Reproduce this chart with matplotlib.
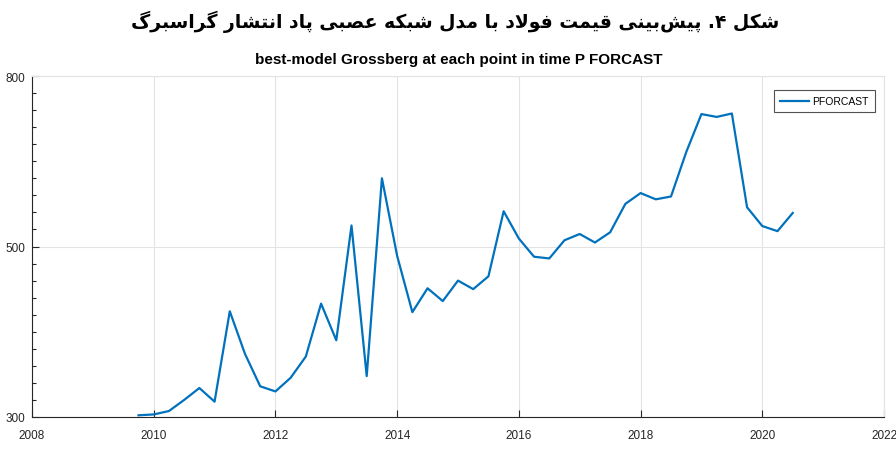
import numpy as np
import matplotlib
matplotlib.use('Agg')
import matplotlib.pyplot as plt
from matplotlib.ticker import FixedLocator

# quarterly time axis and forecast values
years = [2009.75,
         2010.0, 2010.25, 2010.5, 2010.75,
         2011.0, 2011.25, 2011.5, 2011.75,
         2012.0, 2012.25, 2012.5, 2012.75,
         2013.0, 2013.25, 2013.5, 2013.75,
         2014.0, 2014.25, 2014.5, 2014.75,
         2015.0, 2015.25, 2015.5, 2015.75,
         2016.0, 2016.25, 2016.5, 2016.75,
         2017.0, 2017.25, 2017.5, 2017.75,
         2018.0, 2018.25, 2018.5, 2018.75,
         2019.0, 2019.25, 2019.5, 2019.75,
         2020.0, 2020.25, 2020.5]
pforcast = [302,
            303, 307, 320, 334,
            318, 424, 374, 336,
            330, 346, 371, 433,
            390, 537, 348, 620,
            489, 423, 451, 436,
            460, 450, 465, 562,
            514, 488, 486, 511,
            522, 507, 525, 575,
            594, 583, 588, 666,
            733, 728, 734, 569,
            536, 527, 559]

x_ticks = [2008, 2010, 2012, 2014, 2016, 2018, 2020, 2022]
y_ticks = [300, 500, 800]
y_minor = list(range(320, 500, 20)) + list(range(530, 800, 30))

fa_title = 'شکل ۴. پیش\u200cبینی قیمت فولاد با مدل شبکه عصبی پاد انتشار گراسبرگ'
en_title = 'best-model Grossberg at each point in time P FORCAST'

# presentation forms: (isolated, final, initial, medial); 2-tuple = joins right only
FORMS = {
    'ش': (0xFEB5, 0xFEB6, 0xFEB7, 0xFEB8), 'ک': (0xFB8E, 0xFB8F, 0xFB90, 0xFB91),
    'ل': (0xFEDD, 0xFEDE, 0xFEDF, 0xFEE0), 'پ': (0xFB56, 0xFB57, 0xFB58, 0xFB59),
    'ی': (0xFBFC, 0xFBFD, 0xFBFE, 0xFBFF), 'ب': (0xFE8F, 0xFE90, 0xFE91, 0xFE92),
    'ن': (0xFEE5, 0xFEE6, 0xFEE7, 0xFEE8), 'ق': (0xFED5, 0xFED6, 0xFED7, 0xFED8),
    'م': (0xFEE1, 0xFEE2, 0xFEE3, 0xFEE4), 'ت': (0xFE95, 0xFE96, 0xFE97, 0xFE98),
    'ف': (0xFED1, 0xFED2, 0xFED3, 0xFED4), 'ه': (0xFEE9, 0xFEEA, 0xFEEB, 0xFEEC),
    'ع': (0xFEC9, 0xFECA, 0xFECB, 0xFECC), 'ص': (0xFEB9, 0xFEBA, 0xFEBB, 0xFEBC),
    'س': (0xFEB1, 0xFEB2, 0xFEB3, 0xFEB4), 'گ': (0xFB92, 0xFB93, 0xFB94, 0xFB95),
    'و': (0xFEED, 0xFEEE), 'ا': (0xFE8D, 0xFE8E), 'د': (0xFEA9, 0xFEAA),
    'ر': (0xFEAD, 0xFEAE),
}


def shape_fa(text):
    out = []
    i = 0
    n = len(text)
    while i < n:
        c = text[i]
        if c not in FORMS:
            if c != '\u200c':
                out.append(c)
            i += 1
            continue
        prev = text[i - 1] if i > 0 else ''
        jp = prev in FORMS and len(FORMS[prev]) == 4
        if c == 'ل' and i + 1 < n and text[i + 1] == 'ا':
            out.append(chr(0xFEFC if jp else 0xFEFB))
            i += 2
            continue
        nxt = text[i + 1] if i + 1 < n else ''
        jn = len(FORMS[c]) == 4 and nxt in FORMS
        f = FORMS[c]
        if jp and jn:
            out.append(chr(f[3]))
        elif jp:
            out.append(chr(f[1]))
        elif jn:
            out.append(chr(f[2]))
        else:
            out.append(chr(f[0]))
        i += 1
    return ''.join(reversed(out))


def fwd(v):
    v = np.asarray(v, float)
    return np.where(v < 500, (v - 300) / 200.0, 1 + (v - 500) / 300.0)


def inv(u):
    u = np.asarray(u, float)
    return np.where(u < 1, 300 + 200 * u, 500 + 300 * (u - 1))


dark = '#262626'
grid_c = '#e3e3e3'
sans = ['Liberation Sans', 'DejaVu Sans']

fig = plt.figure(figsize=(8.96, 4.64), dpi=100)
ax = fig.add_axes([32 / 896, 46 / 464, 852 / 896, 341 / 464])
ax.set_yscale('function', functions=(fwd, inv))

ax.plot(years, pforcast, color='#0072BD', lw=1.6, label='PFORCAST')

ax.set_xlim(2008, 2022)
ax.set_ylim(300, 800)
ax.xaxis.set_major_locator(FixedLocator(x_ticks))
ax.yaxis.set_major_locator(FixedLocator(y_ticks))
ax.yaxis.set_minor_locator(FixedLocator(y_minor))
ax.xaxis.set_minor_locator(FixedLocator([]))
ax.set_xticklabels([str(t) for t in x_ticks])
ax.set_yticklabels([str(t) for t in y_ticks])
ax.grid(True, which='major', color=grid_c, lw=0.8)
ax.set_axisbelow(True)

ax.tick_params(which='both', direction='in', colors=dark, labelsize=8.5,
               top=False, right=False)
ax.tick_params(which='major', length=5, width=0.8)
ax.tick_params(which='minor', length=3, width=0.8)
ax.tick_params(axis='x', pad=9)
ax.tick_params(axis='y', pad=5)
for lab in ax.get_xticklabels() + ax.get_yticklabels():
    lab.set_family(sans)

for s in ['left', 'bottom']:
    ax.spines[s].set_color(dark)
    ax.spines[s].set_linewidth(0.8)
for s in ['top', 'right']:
    ax.spines[s].set_color(grid_c)
    ax.spines[s].set_linewidth(0.8)

leg = ax.legend(loc='upper right', bbox_to_anchor=(0.9894, 0.959),
                frameon=True, fancybox=False, handlelength=2.8, handletextpad=0.3,
                borderpad=0.6, borderaxespad=0.0,
                prop={'family': sans, 'size': 7.5})
leg.get_frame().set_edgecolor(dark)
leg.get_frame().set_linewidth(0.8)

fig.text(0.508, 0.952, shape_fa(fa_title), ha='center', va='center',
         fontsize=13.5, fontweight='bold', family=['DejaVu Sans'], color='black')
fig.text(0.512, 0.871, en_title, ha='center', va='center', fontsize=11,
         fontweight='bold', family=sans, color='black')

fig.savefig('out.png', dpi=100)
